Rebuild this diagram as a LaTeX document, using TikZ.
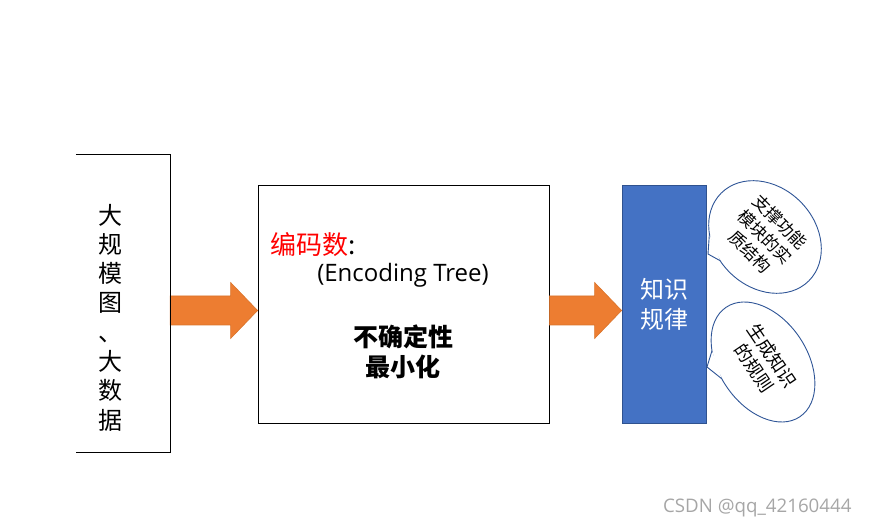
\documentclass[tikz,border=0pt]{standalone}
\usepackage{fontspec}
\setmainfont{Noto Sans CJK SC}
\newfontfamily\latinfont{Open Sans}
\usepackage{xcolor}
\usepackage{tikz}
\usetikzlibrary{calc,positioning,shapes.geometric}
\definecolor{arrorange}{HTML}{ED7D31}
\definecolor{arredge}{HTML}{D9732A}
\definecolor{rulblue}{HTML}{4472C4}
\definecolor{ruledge}{HTML}{2F528F}
\definecolor{bubedge}{HTML}{2F5597}

\begin{document}
\begin{tikzpicture}[x=1pt,y=1pt,line join=miter,
  blockarrow/.style={fill=arrorange,draw=arredge,line width=0.6pt},
  bubble/.style={ellipse,draw=bubedge,fill=white,line width=0.9pt,align=center,inner sep=0pt},
  bubtail/.style={draw=bubedge,fill=white,line width=0.9pt}]
\useasboundingbox (0,0) rectangle (870,530);
%% input data: box open on the left
\node[minimum width=94,minimum height=297] (src) at (123,226.5) {};
\node[align=center,font=\fontsize{24}{29.3}\selectfont] (srctext) at (110,212.5) {大\\规\\模\\图\\、\\大\\数\\据};
%% encoding tree box
\node[draw,line width=0.8pt,minimum width=291,minimum height=238] (tree) at (403.5,226) {};
\node[anchor=west,font=\fontsize{26}{30}\selectfont] (tname) at (267,285) {\textcolor{red}{编码数}:};
\node[font=\latinfont\fontsize{24}{28}\selectfont] (teng) at (403,255) {(Encoding Tree)};
\node[align=center,font=\bfseries\fontsize{25}{30}\selectfont] (tgoal) at (403,178) {不确定性\\最小化};
%% knowledge box (blue)
\node[fill=rulblue,draw=ruledge,line width=0.8pt,minimum width=84,minimum height=238,
  text=white,align=center,font=\fontsize{24}{30}\selectfont] (rule) at (664,226) {知识\\规律};
%% block arrows between the boxes
\foreach \from/\to in {src/tree,tree/rule}{
  \coordinate (tip) at ($(\to.west)+(0,-6.5)$);
  \coordinate (tail) at (\from.east |- tip);
  \draw[blockarrow] ($(tail)+(0,14.5)$) -- ($(tip)+(-27,14.5)$) -- ($(tip)+(-27,28)$) -- (tip)
    -- ($(tip)+(-27,-28)$) -- ($(tip)+(-27,-14.5)$) -- ($(tail)+(0,-14.5)$) -- cycle;
}
\draw[line width=1.2pt] (src.north west) -- (src.north east) -- (src.south east) -- (src.south west);
%% speech bubbles
\node[bubble,rotate=-45,minimum width=124,minimum height=100,font=\fontsize{17}{21}\selectfont]
  (bub1) at (765,293) {支撑功能\\模块的实\\质结构};
\node[bubble,rotate=-56,minimum width=132,minimum height=88,font=\fontsize{18}{22}\selectfont]
  (bub2) at (763,168) {生成知识\\的规则};
\coordinate (tip1) at (708,276);
\coordinate (tip2) at (707,163);
\begin{scope}[shift={(bub1.center)},rotate=-45]
  \coordinate (b1a) at (228:62 and 50);
  \coordinate (b1b) at (256:62 and 50);
\end{scope}
\begin{scope}[shift={(bub2.center)},rotate=-56]
  \coordinate (b2a) at (235:66 and 44);
  \coordinate (b2b) at (262:66 and 44);
\end{scope}
\filldraw[bubtail] (b1a) -- (tip1) -- (b1b);
\filldraw[bubtail] (b2a) -- (tip2) -- (b2b);
%% watermark
\node[anchor=east,font=\latinfont\fontsize{18.7}{20}\selectfont,text=gray!70] (wm) at (855,22) {CSDN @qq\_42160444};
\end{tikzpicture}
\end{document}
